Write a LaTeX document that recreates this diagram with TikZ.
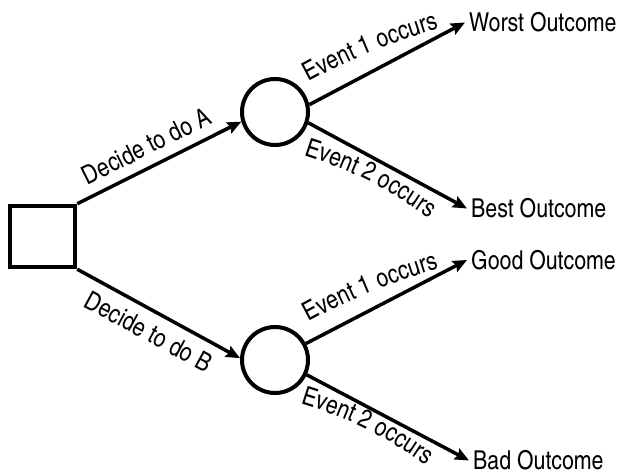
\documentclass[tikz,border=0pt]{standalone}
\usepackage{fontspec}
\setmainfont{texgyreheroscn-regular.otf}
\usetikzlibrary{arrows.meta,decorations.text}
\newcommand{\lblfont}{\fontsize{26}{30}\selectfont}
\tikzset{
  decision/.style={draw, line width=4.5pt, minimum width=65pt, minimum height=61pt, inner sep=0pt},
  chance/.style={draw, circle, line width=4pt, minimum size=66pt, inner sep=0pt},
  outcome/.style={anchor=west, inner xsep=4pt, inner ysep=1pt, font=\lblfont},
  conn/.style={line width=3.5pt, -{Stealth[length=14pt,width=12pt,inset=2pt]}},
  lbl/.style={decorate, decoration={text along path, text align=center, text={|\lblfont|#1}}}
}
\begin{document}
\begin{tikzpicture}[x=1pt,y=1pt]
\useasboundingbox (0,0) rectangle (623,474);
\node[decision] (sq) at (42.5,237.5) {};
\node[chance] (c1) at (275,362) {};
\node[chance] (c2) at (275,114) {};
\node[outcome] (worst) at (465,451.5) {Worst Outcome};
\node[outcome] (best) at (467,265.5) {Best Outcome};
\node[outcome] (good) at (467,214) {Good Outcome};
\node[outcome] (bad) at (469,13.5) {Bad Outcome};
\draw[conn] (sq.north east) -- (c1.196);
\draw[conn] (sq.south east) -- (c2.177);
\draw[conn] (c1.12) -- (worst.west);
\draw[conn] (c1.-18) -- (best.west);
\draw[conn] (c2.28) -- (good.west);
\draw[conn] (c2.-25) -- (bad.west);
\path[lbl={Decide to do A}] (78.9,284.4) -- (222.1,355.6);
\path[lbl={Decide to do B}] (74.1,172.4) -- (214.7,96);
\path[lbl={Event 1 occurs}] (305,390) to[bend left=6] (443,447);
\path[lbl={Event 1 occurs}] (305,150) to[bend left=6] (443,207);
\path[lbl={Event 2 occurs}] (299,320) to[bend left=9] (433,253);
\path[lbl={Event 2 occurs}] (296,72) to[bend left=9] (430,6);
\end{tikzpicture}
\end{document}
